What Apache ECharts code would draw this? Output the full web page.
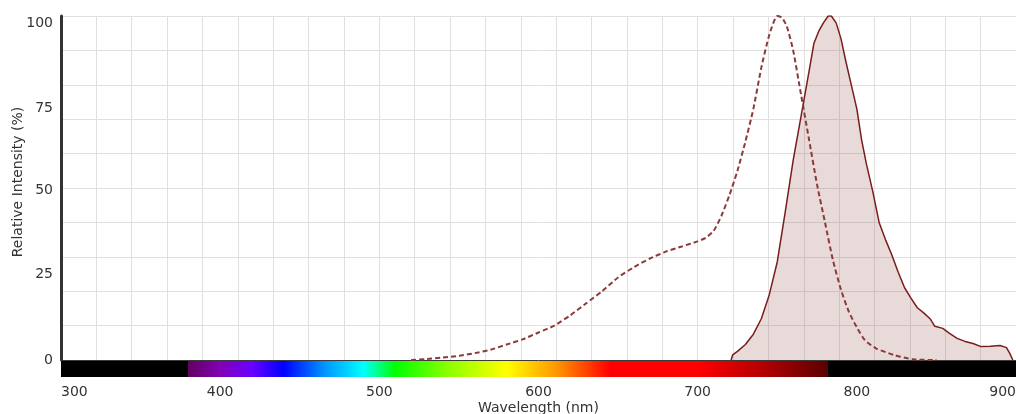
<!DOCTYPE html>
<html>
<head>
<meta charset="utf-8">
<title>Relative Intensity vs Wavelength</title>
<script src="https://cdn.jsdelivr.net/npm/echarts@6/dist/echarts.min.js"></script>
<style>
  html, body { margin: 0; padding: 0; background: #ffffff; }
  #chart { width: 1016px; height: 414px; }
</style>
</head>
<body>
<div id="chart"></div>
<script>
// Excitation spectrum (dashed)
const excitationNm = [520, 530, 540, 550, 560, 570, 580, 590, 600, 610, 620, 630, 640, 650, 660, 670, 680, 690, 700, 705, 710, 715, 720, 725, 730, 735, 740, 745, 750, 753, 756, 760, 765, 770, 775, 780, 785, 790, 795, 800, 805, 812, 823, 835, 850];
const excitationPct = [0, 0.3, 0.7, 1.2, 2.0, 3.0, 4.5, 6.0, 8.0, 10.0, 13.0, 16.5, 20.0, 24.0, 27.0, 29.5, 31.5, 33.0, 34.5, 35.5, 37.5, 42.0, 48.0, 55.0, 63.5, 73.0, 85.0, 94.5, 100, 99.5, 97, 90, 77, 64, 51, 40, 29, 20.5, 14, 9.5, 5.8, 3.4, 1.5, 0.2, 0];

// Emission spectrum (solid, filled)
const emissionNm = [721, 722, 725, 730, 735, 740, 745, 750, 755, 760, 765, 770, 773, 776, 779, 782, 784, 787, 790, 793, 796, 800, 803, 806, 810, 814, 818, 822, 826, 830, 834, 838, 842, 846, 849, 854, 858, 863, 868, 873, 878, 884, 890, 894, 896, 898];
const emissionPct = [0, 1.5, 2.5, 4.5, 7.5, 12, 19, 28.5, 43, 58, 71, 84, 92, 95.5, 98, 100, 100, 98, 93.5, 87, 81, 73, 64, 57, 49, 40, 35, 30.5, 25.5, 21, 18, 15.2, 13.7, 12, 9.8, 9.2, 7.8, 6.3, 5.4, 4.8, 3.9, 4.0, 4.2, 3.6, 2, 0];

// Axis ranges and labelled ticks
const xTicks = [300, 400, 500, 600, 700, 800, 900];
const yTicks = [0, 25, 50, 75, 100];

// Visible-spectrum colour strip under the wavelength axis
const spectrumStops = [
  [300, '#000000'], [380, '#000000'], [380, '#610061'], [400, '#8300b5'],
  [420, '#6a00ff'], [440, '#0000ff'], [465, '#0092ff'], [490, '#00ffff'],
  [510, '#00ff00'], [545, '#92ff00'], [580, '#ffff00'], [612, '#ff9400'],
  [645, '#ff0000'], [700, '#ff0000'], [740, '#b50000'], [782, '#5a0000'],
  [782, '#000000'], [900, '#000000']
];

const xMin = xTicks[0], xMax = xTicks[xTicks.length - 1];
const yMin = yTicks[0], yMax = yTicks[yTicks.length - 1];

const pairs = (xs, ys) => xs.map((x, i) => [x, ys[i]]);

const FONT = 'DejaVu Sans';
const TEXT = '#333333';
const GRID = '#e0e0e0';

// Horizontal grid every 10 %, with the baseline drawn darker
const hLineColors = [];
for (let v = yMin; v <= yMax; v += 10) hLineColors.push(v === 0 ? '#3a3a3a' : GRID);

// The upper intensity labels sit a little below their grid lines
const yLabelDrop = { 100: 14, 75: 12, 50: 4 };

const chart = echarts.init(document.getElementById('chart'), null, { renderer: 'canvas' });

// Gradient in canvas pixels, spanning the wavelength axis from xMin to xMax
function spectrumGradient(px0, px1) {
  const stops = spectrumStops.map(([nm, color]) => ({ offset: (nm - xMin) / (xMax - xMin), color }));
  return new echarts.graphic.LinearGradient(px0, 0, px1, 0, stops, true);
}

chart.setOption({
  animation: false,
  backgroundColor: '#ffffff',
  grid: { left: 61, right: 0, top: 16, bottom: 54, containLabel: false, outerBoundsMode: 'none' },
  xAxis: [
    {
      type: 'value', min: xMin, max: xMax, interval: 100, position: 'bottom', offset: 9,
      name: 'Wavelength (nm)', nameLocation: 'middle', nameGap: 32, nameMoveOverlap: false,
      nameTextStyle: { fontFamily: FONT, fontSize: 14, color: TEXT },
      axisLine: { show: true, onZero: false, lineStyle: { color: '#000000', width: 16, cap: 'butt' } },
      axisTick: { show: false },
      axisLabel: {
        fontFamily: FONT, fontSize: 14, color: TEXT, margin: 16,
        alignMinLabel: 'left', alignMaxLabel: 'right', showMinLabel: true, showMaxLabel: true
      },
      splitLine: { show: false }
    },
    {
      // fine vertical grid: 27 equal divisions across the plot
      type: 'value', min: 0, max: 27, interval: 1, position: 'top',
      axisLine: { show: false }, axisTick: { show: false }, axisLabel: { show: false },
      splitLine: { show: true, lineStyle: { color: GRID, width: 1 } }
    }
  ],
  yAxis: [
    {
      type: 'value', min: yMin, max: yMax, interval: 25, position: 'left',
      name: 'Relative Intensity (%)', nameLocation: 'middle', nameGap: 36, nameMoveOverlap: false,
      nameTextStyle: { fontFamily: FONT, fontSize: 14, color: TEXT, padding: [0, 0, 0, 12] },
      axisLine: { show: true, onZero: false, lineStyle: { color: '#333333', width: 3 } },
      axisTick: { show: false },
      axisLabel: {
        fontFamily: FONT, fontSize: 14, color: TEXT, margin: 8,
        formatter: (v) => (yLabelDrop[v] ? '{d' + v + '|' + v + '}' : String(v)),
        rich: Object.fromEntries(Object.entries(yLabelDrop).map(([k, d]) => [
          'd' + k, { fontFamily: FONT, fontSize: 14, color: TEXT, padding: [d, 0, 0, 0] }
        ]))
      },
      splitLine: { show: false }
    },
    {
      type: 'value', min: yMin, max: yMax, interval: 10, position: 'right',
      axisLine: { show: false }, axisTick: { show: false }, axisLabel: { show: false },
      splitLine: { show: true, lineStyle: { color: hLineColors, width: 1 } }
    }
  ],
  series: [
    {
      name: 'Emission', type: 'line', xAxisIndex: 0, yAxisIndex: 0,
      data: pairs(emissionNm, emissionPct),
      showSymbol: false, smooth: false,
      lineStyle: { color: '#7a1c1c', width: 1.5 },
      areaStyle: { color: 'rgba(138, 58, 58, 0.27)', origin: 'start' },
      z: 3
    },
    {
      name: 'Excitation', type: 'line', xAxisIndex: 0, yAxisIndex: 0,
      data: pairs(excitationNm, excitationPct),
      showSymbol: false, smooth: 0.2,
      lineStyle: { color: '#8b3a3a', width: 2, type: [5, 3] },
      z: 4
    }
  ]
});

// Paint the wavelength strip using the axis's own pixel positions
const px0 = chart.convertToPixel({ xAxisIndex: 0 }, xMin);
const px1 = chart.convertToPixel({ xAxisIndex: 0 }, xMax);
chart.setOption({
  xAxis: [{ axisLine: { lineStyle: { color: spectrumGradient(px0, px1) } } }, {}]
});
</script>
</body>
</html>
